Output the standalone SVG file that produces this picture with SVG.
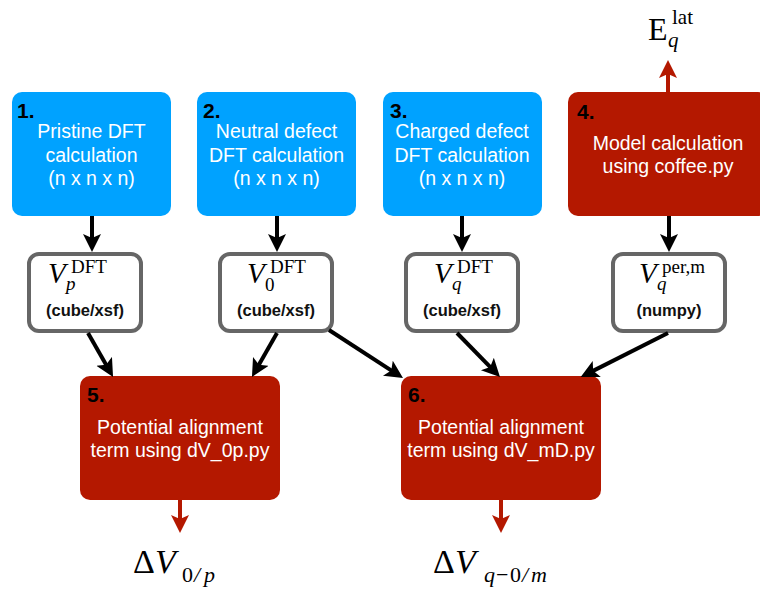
<svg xmlns="http://www.w3.org/2000/svg" width="760" height="594" viewBox="0 0 760 594">
<style>
.blue{fill:#00A2FF}
.red{fill:#B41800}
.out{fill:#fff;stroke:#666;stroke-width:4}
.num{font-family:"Liberation Sans",Arial,sans-serif;font-weight:bold;font-size:21px;fill:#000}
.body{font-family:"Liberation Sans",Arial,sans-serif;font-size:19.5px;fill:#fff;text-anchor:middle}
.fmt{font-family:"Liberation Sans",Arial,sans-serif;font-weight:bold;font-size:16.5px;fill:#111;text-anchor:middle}
.m{font-family:"Liberation Serif","Times New Roman",serif;fill:#000}
.it{font-style:italic}
.conn{stroke:#000;stroke-width:4;fill:none}
.rconn{stroke:#B41800;stroke-width:4;fill:none}
</style>
<defs>
<marker id="ah" markerUnits="userSpaceOnUse" markerWidth="20" markerHeight="20" refX="8" refY="9" orient="auto" viewBox="0 0 20 20">
<path d="M0,0 L18,9 L0,18 L4,9 z" fill="#000"/>
</marker>
<marker id="ahr" markerUnits="userSpaceOnUse" markerWidth="20" markerHeight="20" refX="8" refY="9" orient="auto" viewBox="0 0 20 20">
<path d="M0,0 L18,9 L0,18 L4,9 z" fill="#B41800"/>
</marker>
</defs>
<rect width="760" height="594" fill="#fff"/>

<g id="node1">
<rect class="blue" x="12" y="92" width="159" height="124" rx="10"/>
<text class="num" x="17" y="118">1.</text>
<text class="body" x="91.5" y="138">Pristine DFT</text>
<text class="body" x="91.5" y="162">calculation</text>
<text class="body" x="91.5" y="185">(n x n x n)</text>
</g>
<g id="node2">
<rect class="blue" x="197" y="92" width="159" height="124" rx="10"/>
<text class="num" x="203" y="118">2.</text>
<text class="body" x="276.5" y="138">Neutral defect</text>
<text class="body" x="276.5" y="162">DFT calculation</text>
<text class="body" x="276.5" y="185">(n x n x n)</text>
</g>
<g id="node3">
<rect class="blue" x="383" y="92" width="159" height="124" rx="10"/>
<text class="num" x="390" y="118">3.</text>
<text class="body" x="462" y="138">Charged defect</text>
<text class="body" x="462" y="162">DFT calculation</text>
<text class="body" x="462" y="185">(n x n x n)</text>
</g>
<g id="node4">
<rect class="red" x="568" y="92" width="200" height="124" rx="10"/>
<text class="num" x="577" y="119">4.</text>
<text class="body" x="668" y="150">Model calculation</text>
<text class="body" x="668" y="173">using coffee.py</text>
</g>
<g id="elat">
<text class="m" font-size="32"><tspan x="648" y="40">E</tspan><tspan x="672" y="24" font-size="21">lat</tspan><tspan class="it" x="668" y="47" font-size="21">q</tspan></text>
</g>

<g id="vp">
<rect class="out" x="29" y="254" width="112" height="77" rx="10"/>
<text class="m" font-size="29"><tspan class="it" x="48" y="283">V</tspan><tspan x="71" y="273" font-size="19">DFT</tspan><tspan class="it" x="66" y="290" font-size="19">p</tspan></text>
<text class="fmt" x="85" y="316">(cube/xsf)</text>
</g>
<g id="v0">
<rect class="out" x="220" y="254" width="112" height="77" rx="10"/>
<text class="m" font-size="29"><tspan class="it" x="247" y="283">V</tspan><tspan x="270" y="273" font-size="19">DFT</tspan><tspan x="265" y="291" font-size="19">0</tspan></text>
<text class="fmt" x="276" y="316">(cube/xsf)</text>
</g>
<g id="vq">
<rect class="out" x="406" y="254" width="112" height="77" rx="10"/>
<text class="m" font-size="29"><tspan class="it" x="434" y="283">V</tspan><tspan x="457" y="273" font-size="19">DFT</tspan><tspan class="it" x="452" y="290" font-size="19">q</tspan></text>
<text class="fmt" x="462" y="316">(cube/xsf)</text>
</g>
<g id="vm">
<rect class="out" x="613" y="254" width="112" height="77" rx="10"/>
<text class="m" font-size="29"><tspan class="it" x="639" y="283">V</tspan><tspan x="662" y="273" font-size="19">per,m</tspan><tspan class="it" x="657" y="290" font-size="19">q</tspan></text>
<text class="fmt" x="669" y="316">(numpy)</text>
</g>

<g id="node5">
<rect class="red" x="80" y="376" width="200" height="124" rx="10"/>
<text class="num" x="87" y="402">5.</text>
<text class="body" x="180" y="434">Potential alignment</text>
<text class="body" x="180" y="457">term using dV_0p.py</text>
</g>
<g id="node6">
<rect class="red" x="401" y="376" width="200" height="124" rx="10"/>
<text class="num" x="408" y="402">6.</text>
<text class="body" x="501" y="434">Potential alignment</text>
<text class="body" x="501" y="457">term using dV_mD.py</text>
</g>

<g id="dv0p">
<text class="m" font-size="34"><tspan x="133" y="573">Δ</tspan><tspan class="it" x="155" y="573">V</tspan><tspan font-size="22" x="182" y="582">0</tspan><tspan class="it" font-size="22" x="194" y="582">/</tspan><tspan class="it" font-size="22" x="204" y="582">p</tspan></text>
</g>
<g id="dvq0m">
<text class="m" font-size="34"><tspan x="433" y="573">Δ</tspan><tspan class="it" x="455" y="573">V</tspan><tspan class="it" font-size="22" x="484" y="582">q</tspan><tspan font-size="22" x="496" y="582">−</tspan><tspan font-size="22" x="510" y="582">0</tspan><tspan class="it" font-size="22" x="522" y="582">/</tspan><tspan class="it" font-size="22" x="531" y="582">m</tspan></text>
</g>

<g id="connectors">
<line class="conn" x1="92" y1="216" x2="92" y2="242" marker-end="url(#ah)"/>
<line class="conn" x1="277" y1="216" x2="277" y2="242" marker-end="url(#ah)"/>
<line class="conn" x1="462" y1="216" x2="462" y2="242" marker-end="url(#ah)"/>
<line class="conn" x1="669" y1="216" x2="669" y2="242" marker-end="url(#ah)"/>
<line class="conn" x1="88" y1="333" x2="108.1" y2="368.3" marker-end="url(#ah)"/>
<line class="conn" x1="277" y1="333" x2="256.9" y2="368.3" marker-end="url(#ah)"/>
<line class="conn" x1="329" y1="330" x2="394.6" y2="372.6" marker-end="url(#ah)"/>
<line class="conn" x1="457" y1="333" x2="493" y2="369.8" marker-end="url(#ah)"/>
<line class="conn" x1="668" y1="333" x2="589.6" y2="372.6" marker-end="url(#ah)"/>
<line class="rconn" x1="180" y1="500" x2="180" y2="523" marker-end="url(#ahr)"/>
<line class="rconn" x1="501" y1="500" x2="501" y2="523" marker-end="url(#ahr)"/>
<line class="rconn" x1="668" y1="92" x2="668" y2="70" marker-end="url(#ahr)"/>
</g>
</svg>
